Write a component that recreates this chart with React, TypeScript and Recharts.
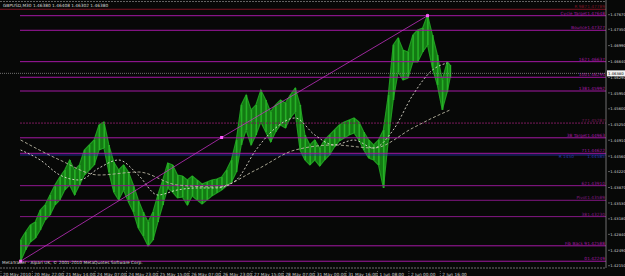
import React from "react";
import { Area, Bar, ComposedChart, Line, ReferenceLine, XAxis, YAxis } from "recharts";

// bar index (M30 bars counted from the first time label)
const barIdx = [
  20, 25, 30, 35, 40, 45, 50, 55, 60, 65, 70, 75, 80, 85, 90, 95, 100, 105, 110, 115,
  120, 125, 130, 135, 140, 145, 150, 155, 160, 165, 170, 175, 180, 185, 190, 195, 200, 205, 210, 215,
  220, 225, 230, 235, 240, 245, 250, 255, 260, 265, 270, 275, 280, 285, 290, 295, 300, 305, 310, 315,
  320, 325, 330, 335, 340, 345, 350, 355, 360, 365, 370, 375, 380, 385, 390, 395, 400, 405, 410, 415,
  420, 425, 430, 435, 440, 445, 450, 455, 458,
];

const highs = [
  1.42716, 1.42892, 1.43046, 1.43112, 1.43376, 1.43486, 1.43706, 1.43925, 1.44101, 1.44255,
  1.44475, 1.44255, 1.44365, 1.44695, 1.44805, 1.44915, 1.45245, 1.45311, 1.44805, 1.44431,
  1.44255, 1.44365, 1.44211, 1.43925, 1.43596, 1.43332, 1.43112, 1.43332, 1.43706, 1.44035,
  1.44409, 1.44365, 1.44145, 1.44123, 1.44035, 1.44123, 1.44035, 1.43947, 1.43991, 1.44035,
  1.44057, 1.44101, 1.44255, 1.44475, 1.44915, 1.45685, 1.45904, 1.45575, 1.45685, 1.46014,
  1.45795, 1.45531, 1.45685, 1.45795, 1.45729, 1.45904, 1.46058, 1.45685, 1.45025, 1.44805,
  1.44915, 1.44739, 1.44915, 1.45025, 1.45135, 1.45245, 1.45311, 1.45355, 1.45399, 1.45311,
  1.45091, 1.44915, 1.44805, 1.44915, 1.45135, 1.45904, 1.47004, 1.47157, 1.46894, 1.4685,
  1.47223, 1.47333, 1.47377, 1.47663, 1.47223, 1.46784, 1.46234, 1.4663, 1.46564,
];

const lows = [
  1.42249, 1.42497, 1.42672, 1.4276, 1.42936, 1.43156, 1.43266, 1.43486, 1.43596, 1.43816,
  1.43925, 1.43706, 1.43925, 1.44145, 1.44255, 1.44365, 1.44695, 1.44739, 1.44211, 1.43771,
  1.43596, 1.43816, 1.43552, 1.43332, 1.4298, 1.42804, 1.42584, 1.42716, 1.43112, 1.43486,
  1.4386, 1.43771, 1.4364, 1.43662, 1.43486, 1.43684, 1.43596, 1.43508, 1.43596, 1.43684,
  1.4375, 1.43816, 1.43903, 1.43991, 1.44211, 1.44805, 1.45135, 1.44805, 1.45025, 1.45311,
  1.45091, 1.44871, 1.45091, 1.45245, 1.45179, 1.45399, 1.45531, 1.44695, 1.44475, 1.44365,
  1.44475, 1.44343, 1.44475, 1.44585, 1.44761, 1.44893, 1.44959, 1.45025, 1.45069, 1.44915,
  1.44695, 1.44519, 1.44475, 1.44365, 1.4386, 1.44915, 1.45795, 1.4641, 1.46234, 1.46278,
  1.4663, 1.4663, 1.4685, 1.47004, 1.46498, 1.46124, 1.45575, 1.4597, 1.46278,
];

// moving averages (dashed)
const fastBars = [20, 40, 60, 80, 100, 120, 140, 160, 180, 200, 220, 240, 260, 280, 300, 320, 340, 360, 380, 400, 420, 440, 455];
const fastMa = [
  1.44695, 1.44475, 1.44145, 1.44035, 1.44299, 1.44475, 1.44145, 1.43706, 1.43816, 1.4386, 1.4386, 1.44035,
  1.44695, 1.45179, 1.45399, 1.45025, 1.44805, 1.44915, 1.44739, 1.45135, 1.45904, 1.46454, 1.46608,
];
const slowBars = [20, 60, 100, 140, 180, 220, 260, 300, 340, 380, 420, 440, 458];
const slowMa = [1.44915, 1.44475, 1.44145, 1.44211, 1.43925, 1.43882, 1.44255, 1.44695, 1.44805, 1.44739, 1.45179, 1.45399, 1.45575];

// trend line with its three anchor points
const trendBars = [20, 225, 435];
const trendValues = [1.42249, 1.4497, 1.47648];

// horizontal levels drawn by the indicator
const levelValues = [1.47789, 1.47648, 1.47327, 1.46637, 1.46294, 1.45992, 1.45287, 1.44963, 1.44622, 1.44585, 1.4391, 1.43589, 1.4323, 1.42588, 1.42249];
const levelNames = ["R 987", "Cycle Target", "Bounce", "162", "100", "138", "77", "38 Target", "71", "R 1450", "62", "Pivot", "38", "Fib Back 9", "0"];
const levelColors = ["#7c1424", "#a418a4", "#a418a4", "#a418a4", "#a418a4", "#a418a4", "#7a1a5c", "#a418a4", "#a418a4", "#2838b4", "#921892", "#841884", "#841884", "#a418a4", "#a418a4"];

const bidPrice = 1.4638;

const priceTicks = ["1.42150", "1.42490", "1.42840", "1.43180", "1.43530", "1.43870", "1.44220", "1.44560", "1.44910", "1.45250", "1.45600", "1.45950", "1.46290", "1.46640", "1.46990", "1.47350", "1.47670"];
const timeTicks = [0, 32, 64, 96, 128, 160, 192, 224, 256, 288, 320, 352, 384, 416, 448];
const timeLabels = [
  "20 May 2010", "20 May 22:00", "21 May 14:00", "24 May 07:00", "24 May 23:00", "25 May 15:00", "26 May 07:00",
  "26 May 23:00", "27 May 15:00", "28 May 07:00", "31 May 00:00", "31 May 16:00", "1 Jun 08:00", "2 Jun 00:00", "2 Jun 16:00",
];

const allBars = Array.from(new Set([...barIdx, ...fastBars, ...slowBars, ...trendBars])).sort((a, b) => a - b);
const rows = allBars.map((b) => {
  const i = barIdx.indexOf(b);
  const f = fastBars.indexOf(b);
  const s = slowBars.indexOf(b);
  const t = trendBars.indexOf(b);
  return {
    bar: b,
    range: i >= 0 ? [lows[i], highs[i]] : null,
    fast: f >= 0 ? fastMa[f] : null,
    slow: s >= 0 ? slowMa[s] : null,
    trend: t >= 0 ? trendValues[t] : null,
  };
});

const FONT = "DejaVu Sans, sans-serif";
const FS = 4.3;

const TimeTick = (props: any) => {
  const { x, y, index } = props;
  return (
    <g>
      <line x1={x} x2={x} y1={y + 1} y2={y + 6} stroke="#9a9a9a" strokeWidth={0.6} strokeDasharray="1 1" />
      <text x={x + 2} y={y + 5.5} fontSize={FS} fill="#d0d0d0" fontFamily={FONT}>
        {timeLabels[index]}
      </text>
    </g>
  );
};

const PriceTick = (props: any) => {
  const { x, y, index } = props;
  return (
    <g>
      <line x1={x} x2={x + 2} y1={y} y2={y} stroke="#9a9a9a" strokeWidth={0.6} />
      <text x={x + 2.2} y={y + 1.6} fontSize={3.8} fill="#d0d0d0" fontFamily={FONT}>
        {priceTicks[index]}
      </text>
    </g>
  );
};

const LevelLabel = (props: any) => {
  const { viewBox, name, value, color, nameGap, dy } = props;
  if (!viewBox) return null;
  const right = viewBox.x + viewBox.width;
  const y = viewBox.y + dy;
  return (
    <g>
      <text x={right - nameGap} y={y} textAnchor="end" fontSize={FS} fill={color} fontFamily={FONT}>
        {name}
      </text>
      <text x={right - 1} y={y} textAnchor="end" fontSize={FS} fill={color} fontFamily={FONT}>
        {value.toFixed(5)}
      </text>
    </g>
  );
};

const BidLabel = (props: any) => {
  const { viewBox } = props;
  if (!viewBox) return null;
  const right = viewBox.x + viewBox.width;
  return (
    <g>
      <rect x={right + 1} y={viewBox.y - 3} width={18} height={6} fill="#f2f2f2" />
      <text x={right + 2} y={viewBox.y + 1.5} fontSize={3.8} fill="#000" fontFamily={FONT}>
        {bidPrice.toFixed(5)}
      </text>
    </g>
  );
};

const TrendDot = (props: any) => {
  const { cx, cy, value, index } = props;
  if (value == null || cy == null) return <g key={`d${index}`} />;
  return <rect key={`d${index}`} x={cx - 1.5} y={cy - 1.5} width={3} height={3} fill="#ff5cff" />;
};

export default function App() {
  return (
    <div style={{ position: "relative", width: 625, height: 276, background: "#070807" }}>
      <style>{`body{margin:0;background:#070807;}`}</style>
      <ComposedChart width={625} height={276} data={rows} margin={{ top: 0, right: 0, bottom: 0, left: 0 }}>
        <XAxis
          dataKey="bar"
          type="number"
          domain={[-1, 617]}
          ticks={timeTicks}
          interval={0}
          height={8}
          tickSize={0}
          tickLine={false}
          axisLine={{ stroke: "#8a8a8a", strokeWidth: 0.8, strokeDasharray: "2 1" }}
          tick={<TimeTick />}
          allowDataOverflow
        />
        <YAxis
          orientation="right"
          type="number"
          domain={[1.421, 1.47993]}
          ticks={priceTicks.map(Number)}
          interval={0}
          width={19}
          tickSize={0}
          tickLine={false}
          axisLine={{ stroke: "#8a8a8a", strokeWidth: 0.8 }}
          tick={<PriceTick />}
          allowDataOverflow
        />
        {levelValues.map((v, i) => (
          <ReferenceLine
            key={i}
            segment={[
              { x: i === 0 ? -1 : 19.4, y: v },
              { x: 617, y: v },
            ]}
            stroke={levelColors[i]}
            strokeWidth={i === 9 ? 0.8 : 1}
            strokeDasharray={i === 6 ? "2 1" : undefined}
            label={
              <LevelLabel
                name={levelNames[i]}
                value={v}
                color={levelColors[i]}
                nameGap={i === 9 ? 32 : 19}
                dy={i === 9 ? 3.5 : i === 8 ? -1.8 : -1}
              />
            }
          />
        ))}
        <ReferenceLine
          segment={[
            { x: -1, y: bidPrice },
            { x: 617, y: bidPrice },
          ]}
          stroke="#8a8a8a"
          strokeWidth={0.8}
          strokeDasharray="1 1"
          label={<BidLabel />}
        />
        <Area
          dataKey="range"
          type="linear"
          fill="#137a13"
          fillOpacity={1}
          stroke="#1f9a1f"
          strokeWidth={1.2}
          connectNulls
          isAnimationActive={false}
          activeDot={false}
        />
        <Bar dataKey="range" fill="#26b026" barSize={1.6} isAnimationActive={false} />
        <Line
          dataKey="slow"
          type="monotone"
          stroke="#b8b4a0"
          strokeWidth={0.9}
          strokeDasharray="3 2"
          dot={false}
          activeDot={false}
          connectNulls
          isAnimationActive={false}
        />
        <Line
          dataKey="fast"
          type="monotone"
          stroke="#e0ddd0"
          strokeWidth={0.9}
          strokeDasharray="2 2"
          dot={false}
          activeDot={false}
          connectNulls
          isAnimationActive={false}
        />
        <Line
          dataKey="trend"
          type="linear"
          stroke="#c030c0"
          strokeWidth={0.8}
          dot={<TrendDot />}
          activeDot={false}
          connectNulls
          isAnimationActive={false}
        />
      </ComposedChart>
      <svg width={625} height={276} style={{ position: "absolute", left: 0, top: 0, pointerEvents: "none" }}>
        <line x1={0} x2={606} y1={1.5} y2={1.5} stroke="#7a7a7a" strokeWidth={0.8} strokeDasharray="2 1" />
        <text x={3} y={6.5} fontSize={FS} fill="#d8d8d8" fontFamily={FONT}>
          GBPUSD,M30  1.46380 1.46408 1.46302 1.46380
        </text>
        <text x={2} y={263.5} fontSize={FS} fill="#d8d8d8" fontFamily={FONT}>
          MetaTrader - Alpari UK, © 2001-2010 MetaQuotes Software Corp.
        </text>
      </svg>
    </div>
  );
}
